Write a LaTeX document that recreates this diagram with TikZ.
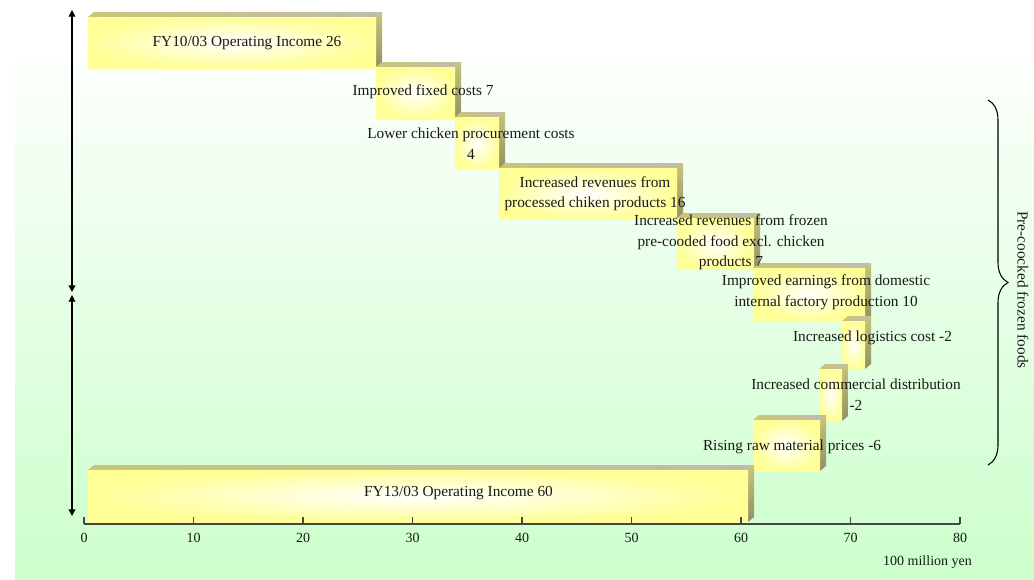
\documentclass[tikz,border=0pt]{standalone}
\usepackage{fontspec}
\setmainfont{Liberation Serif}
\usetikzlibrary{decorations.pathreplacing, arrows.meta}

\definecolor{bgtop}{RGB}{252,255,252}
\definecolor{bgbottom}{RGB}{204,255,204}
\definecolor{baryellow}{RGB}{255,255,150}
\definecolor{toplft}{RGB}{200,198,120}
\definecolor{toprgt}{RGB}{192,188,172}
\definecolor{sideface}{RGB}{145,143,100}
\definecolor{inkgray}{RGB}{25,25,25}

% front face x1 y1 x2 y2 (pixel units, y down)
\newcommand{\stepbar}[4]{%
  \shade[left color=toplft, right color=toprgt] (#1,#2) -- ++(6,-5) -- (#3+6,#2-5) -- (#3,#2) -- cycle;
  \shade[top color=toplft, bottom color=sideface] (#3,#2) -- ++(6,-5) -- (#3+6,#4-5) -- (#3,#4) -- cycle;
  \shade[inner color=white, outer color=baryellow] (#1,#2) rectangle (#3,#4);
}

\begin{document}
\begin{tikzpicture}[x=0.75pt, y=-0.75pt, font=\fontsize{11.5}{15.4}\selectfont,
  lbl/.style={inner sep=0pt, align=center, text=inkgray},
  ticklbl/.style={inner sep=0pt, text=inkgray, font=\fontsize{10.5}{12}\selectfont},
  span/.style={{Triangle[length=5pt,width=5pt]}-{Triangle[length=5pt,width=5pt]}, line width=1pt}]
  \useasboundingbox (0,0) rectangle (1034,579);
  % background
  \shade[top color=bgtop, bottom color=bgbottom] (15,58) rectangle (1034,579);

  % bars
  \stepbar{88}{17}{376}{68}
  \stepbar{376}{67}{455}{119}
  \stepbar{455}{117}{499}{169}
  \stepbar{499}{168}{677}{219}
  \stepbar{677}{218}{754}{269}
  \stepbar{753}{268}{865}{321}
  \stepbar{842}{321}{865}{369}
  \stepbar{819}{369}{842}{421}
  \stepbar{753}{420}{820}{471}
  \stepbar{88}{470}{748}{522}

  % labels
  \node[lbl] (inc10) at (247,43) {FY10/03 Operating Income 26};
  \node[lbl] (fixed) at (423,92) {Improved fixed costs 7};
  \node[lbl] (chick) at (471,143.5) {Lower chicken procurement costs\\4};
  \node[lbl] (proc) at (595,193.5) {Increased revenues from\\processed chiken products 16};
  \node[lbl] (frozen) at (731,242.5) {Increased revenues from frozen\\pre-cooded food excl. chicken\\products 7};
  \node[lbl] (dom) at (826,292.5) {Improved earnings from domestic\\internal factory production 10};
  \node[lbl] (logi) at (872.5,338) {Increased logistics cost -2};
  \node[lbl] (comm) at (856,394.5) {Increased commercial distribution\\-2};
  \node[lbl] (raw) at (792,447) {Rising raw material prices -6};
  \node[lbl] (inc13) at (458.5,493) {FY13/03 Operating Income 60};

  % axis
  \draw[inkgray!80, line width=0.8pt] (84,524) -- (960,524);
  \foreach \v in {0,10,...,80} {
    \draw[inkgray!80, line width=0.8pt] (84+10.95*\v,524) -- ++(0,-7);
    \node[ticklbl] (tk\v) at (84+10.95*\v,538) {\v};
  }
  \node[ticklbl] (unit) at (927.5,562) {100 million yen};

  % vertical arrows
  \coordinate (atop) at (72,10);
  \coordinate (amidu) at (72,292);
  \coordinate (amidl) at (72,295);
  \coordinate (abot) at (72,516);
  \draw[span] (atop) -- (amidu);
  \draw[span] (amidl) -- (abot);

  % brace
  \coordinate (btop) at (988,100);
  \coordinate (bbot) at (988,465);
  \draw[decorate, decoration={brace, amplitude=15pt}, line width=0.8pt] (btop) -- (bbot);
  \node[lbl, rotate=-90] (grp) at (1023,290) {Pre-coocked frozen foods};
\end{tikzpicture}
\end{document}
